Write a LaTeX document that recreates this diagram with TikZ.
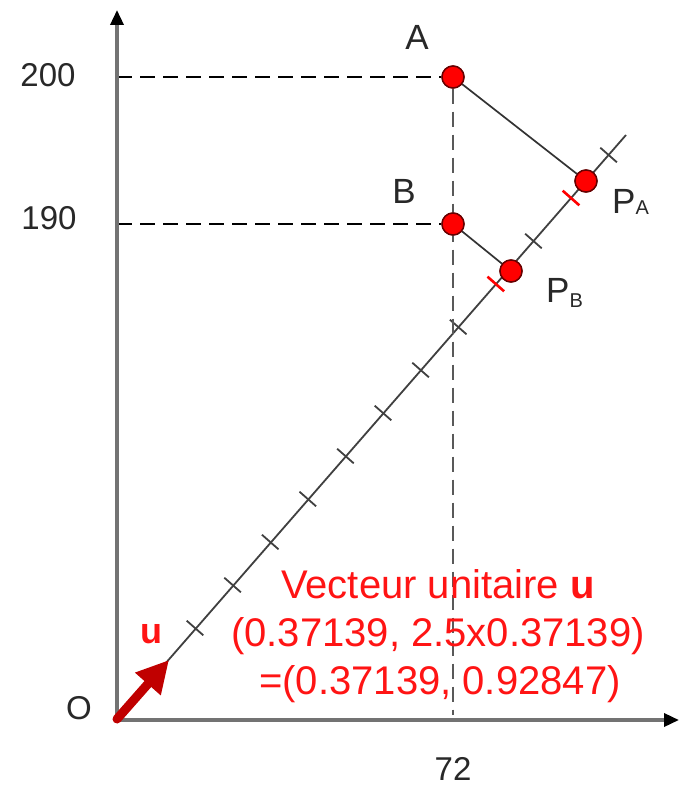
\documentclass[tikz,border=0pt]{standalone}
\usepackage{fontspec}
\setmainfont{Liberation Sans}
\usetikzlibrary{arrows.meta}
\definecolor{dotred}{RGB}{255,0,0}
\definecolor{arrred}{RGB}{192,0,0}
\definecolor{txtred}{RGB}{255,20,20}
\definecolor{lbl}{RGB}{40,40,40}
\begin{document}
\begin{tikzpicture}[x=1pt,y=-1pt,
  axis/.style={draw=black!55, line width=3.4pt, -{Triangle[length=15pt,width=13pt,fill=black,color=black]}},
  guide/.style={draw=black, line width=2.1pt, dash pattern=on 15pt off 8pt},
  vguide/.style={draw=black!65, line width=2.3pt, dash pattern=on 15pt off 8pt},
  dot/.style={circle, fill=dotred, draw=black!60!red, line width=1.4pt, minimum size=22pt, inner sep=0pt},
  lab/.style={font=\fontsize{35}{35}\selectfont, text=lbl, inner sep=0pt, anchor=base},
  num/.style={font=\fontsize{33}{33}\selectfont, text=lbl, inner sep=0pt, anchor=base},
  redtxt/.style={font=\fontsize{40}{48}\selectfont, text=txtred, inner sep=0pt, anchor=base},
  tickmark/.style={line width=1.8pt, draw=black!75},
  redtick/.style={line width=2.6pt, draw=red},
  conn/.style={draw=black!80, line width=1.7pt}]
\useasboundingbox (0,0) rectangle (681,789);
\fill[white] (0,0) rectangle (681,789);
% coordinates
\coordinate (O) at (117,719);
\coordinate (E) at (626,135);
\coordinate (U) at (169,660);
\coordinate (XE) at (679,720);
\coordinate (YE) at (117,10);
\coordinate (Y200) at (117,77);
\coordinate (Y190) at (117,224);
\coordinate (X72) at (453,715);
% diagonal line
\draw[draw=black!75, line width=1.8pt] (O) -- (E);
% ticks
\foreach \k in {0,...,7,9,11}{
  \draw[tickmark] ({195+37.6*\k},{628-43*\k}) ++(-8.3,-7.3) -- ++(16.6,14.6);
}
\foreach \k in {8,10}{
  \draw[redtick] ({195+37.6*\k},{628-43*\k}) ++(-8.3,-7.3) -- ++(16.6,14.6);
}
% guides
\node[dot] (A) at (453,77) {};
\node[dot] (B) at (453,224) {};
\node[dot] (PA) at (586,181) {};
\node[dot] (PB) at (511,271) {};
\draw[guide] (Y200) -- (A.west);
\draw[guide] (Y190) -- (B.west);
\draw[vguide] (A.south) -- (X72);
\draw[conn] (A) -- (PA);
\draw[conn] (B) -- (PB);
% redraw dots on top
\node[dot] at (A) {};
\node[dot] at (B) {};
\node[dot] at (PA) {};
\node[dot] at (PB) {};
% axes
\draw[axis] (O |- XE) -- (XE);
\draw[axis] (O |- XE) -- (YE);
% unit vector
\draw[draw=arrred, line width=9pt, line cap=round, -{Triangle[length=32pt,width=32pt]}] (O) -- (U);
% labels
\node[lab] (la) at (417,50) {A};
\node[lab] (lb) at (404,203) {B};
\node[lab, anchor=base west] (lpa) at (612,213) {P\raisebox{-1pt}{\fontsize{20}{20}\selectfont A}};
\node[lab, anchor=base west] (lpb) at (546,302) {P\raisebox{-5pt}{\fontsize{20}{20}\selectfont B}};
\node[num] (l200) at (48,87) {200};
\node[num] (l190) at (49,229) {190};
\node[num] (l72) at (453,780) {72};
\node[num] (lo) at (79,719) {O};
\node[font=\fontsize{36}{36}\selectfont\bfseries, text=txtred, inner sep=0pt, anchor=base] (lu) at (151,643) {u};
\node[redtxt] (t1) at (438,598) {Vecteur unitaire \textbf{u}};
\node[redtxt] (t2) at (438,646) {(0.37139, 2.5x0.37139)};
\node[redtxt] (t3) at (440,694) {=(0.37139, 0.92847)};
\end{tikzpicture}
\end{document}
